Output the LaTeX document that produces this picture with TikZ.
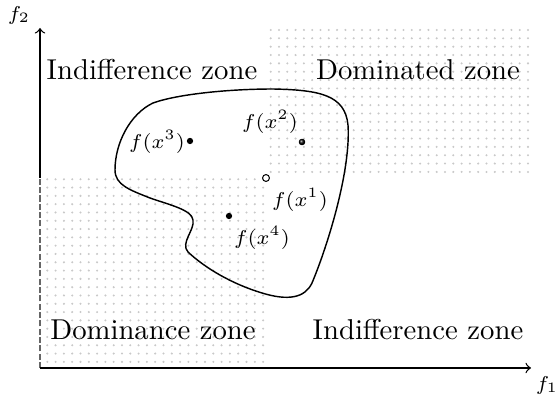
\documentclass[tikz,border=0pt]{standalone}
\begin{document}
\begin{tikzpicture}[x=0.3484pt,y=-0.3484pt,
  zonedot/.style={fill=gray!42},
  zonelabel/.style={font=\normalsize,inner sep=0pt},
  ptlabel/.style={font=\scriptsize,inner sep=1pt},
  axislabel/.style={font=\scriptsize,inner sep=0pt},
  fullpt/.style={circle,fill=black,inner sep=0pt,minimum size=2.2pt},
  openpt/.style={circle,draw=black,fill=white,inner sep=0pt,minimum size=2.4pt,line width=0.35pt},
  axis/.style={->,line width=0.45pt}]
\useasboundingbox (0,0) rectangle (556,396);
% zones (dot grids)
\foreach \i in {0,...,31}{
  \foreach \j in {0,...,17}{
    \fill[zonedot] (270.7+8.3*\i,30+8.35*\j) circle (0.4pt);
  }
}
\foreach \i in {0,...,26}{
  \foreach \j in {0,...,22}{
    \fill[zonedot] (47.3+8.3*\i,179.3+8.3*\j) circle (0.4pt);
  }
}
% axes
\coordinate (O) at (40,368);
\coordinate (ytop) at (40,28);
\coordinate (xend) at (531,368);
\coordinate (ymid) at (40,178);
\draw[line width=0.45pt,gray!80!black,dash pattern=on 2.1pt off 0.8pt] (O) -- (ymid);
\draw[axis] (ymid) -- (ytop);
\draw[axis] (O) -- (xend);
\node[axislabel] (f2) at (19,15) {$f_2$};
\node[axislabel] (f1) at (547,385) {$f_1$};
% zone labels
\node[zonelabel] (iz1) at (152,70) {Indifference zone};
\node[zonelabel] (dz) at (418,70) {Dominated zone};
\node[zonelabel] (dcz) at (153,330) {Dominance zone};
\node[zonelabel] (iz2) at (418,330) {Indifference zone};
% blob
\draw[line width=0.5pt] (153,103)
  .. controls (178,94) and (230,89) .. (273,89)
  .. controls (320,90) and (345,95) .. (348,125)
  .. controls (351,170) and (328,245) .. (312,283)
  .. controls (305,298) and (288,301) .. (262,293)
  .. controls (232,284) and (205,268) .. (188,252)
  .. controls (180,243) and (195,230) .. (193,220)
  .. controls (192,210) and (170,205) .. (150,198)
  .. controls (130,190) and (115,185) .. (115,170)
  .. controls (115,143) and (130,114) .. (153,103) -- cycle;
% points
\node[fullpt] (p3) at (190,141) {};
\node[fullpt,shading=ball,ball color=black] (p2) at (302,142) {};
\node[fullpt] (p4) at (229,216) {};
\node[openpt] (p1) at (266,178) {};
\node[ptlabel] (l3) at (157,142) {$f(x^3)$};
\node[ptlabel] (l2) at (270,122) {$f(x^2)$};
\node[ptlabel] (l1) at (300,200) {$f(x^1)$};
\node[ptlabel] (l4) at (262,238) {$f(x^4)$};
\end{tikzpicture}
\end{document}
